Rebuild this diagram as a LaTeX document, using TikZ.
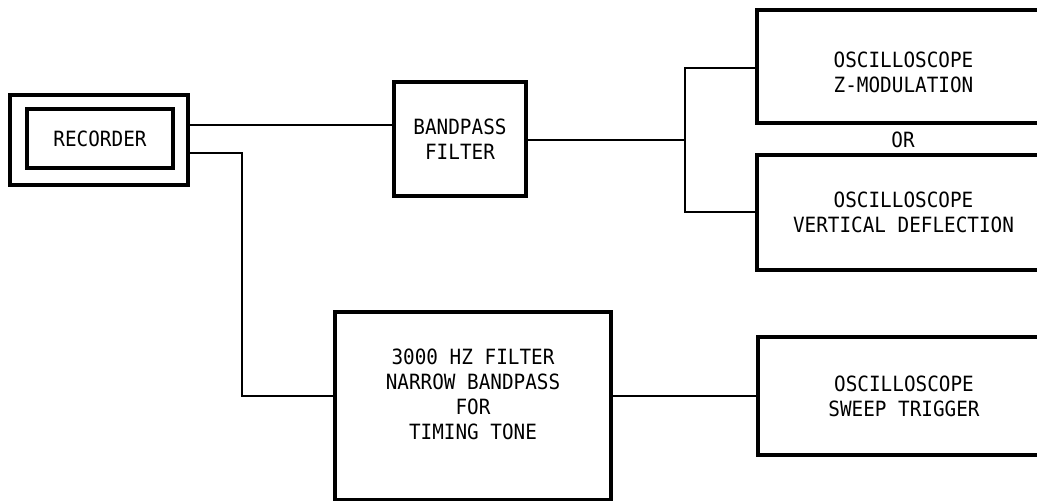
\documentclass[tikz,border=0pt]{standalone}
\usepackage{fontspec}
\setmonofont[FakeStretch=0.92]{DejaVu Sans Mono}
\usetikzlibrary{positioning}

\begin{document}
\begin{tikzpicture}[
  x=1pt,y=-1pt,
  font=\ttfamily\fontsize{21}{25}\selectfont,
  lbl/.style={align=center,inner sep=0pt},
  box/.style={lbl,draw=black,line width=3.2pt},
  wire/.style={draw=black,line width=2pt}
]
  \useasboundingbox[fill=white] (0,0) rectangle (1037,501);

  % recorder (double frame)
  \node[box,minimum width=178,minimum height=90] (recout) at (99,140) {};
  \node[box,minimum width=146,minimum height=59,text depth=0pt] (rec) at (100,138.5) {RECORDER};

  % upper path
  \node[box,minimum width=132,minimum height=114] (bpf) at (460,139) {BANDPASS\\FILTER};
  \node[box,minimum width=293,minimum height=113] (zmod) at (903.5,66.5) {};
  \node[lbl] (zmodtxt) at (903.5,72) {OSCILLOSCOPE\\Z-MODULATION};
  \node[lbl] (ortxt) at (903,140) {OR};
  \node[box,minimum width=293,minimum height=115] (vdef) at (903.5,212.5) {OSCILLOSCOPE\\VERTICAL DEFLECTION};

  % lower path
  \node[box,minimum width=276,minimum height=188] (tone) at (473,406) {};
  \node[lbl] (tonetxt) at (473,394) {3000 HZ FILTER\\NARROW BANDPASS\\FOR\\TIMING TONE};
  \node[box,minimum width=292,minimum height=118] (sweep) at (904,396) {OSCILLOSCOPE\\SWEEP TRIGGER};

  \coordinate (split) at (685,140);
  \coordinate (drop) at (242,153);

  \draw[wire] (recout.east |- 0,125) -- (bpf.west |- 0,125);
  \draw[wire] (bpf.east |- split) -- (split);
  \draw[wire] (zmod.west |- 0,68) -| (split) |- (vdef.west |- 0,212);
  \draw[wire] (recout.east |- drop) -- (drop) |- (tone.west |- 0,396);
  \draw[wire] (tone.east |- 0,396) -- (sweep.west |- 0,396);
\end{tikzpicture}
\end{document}
